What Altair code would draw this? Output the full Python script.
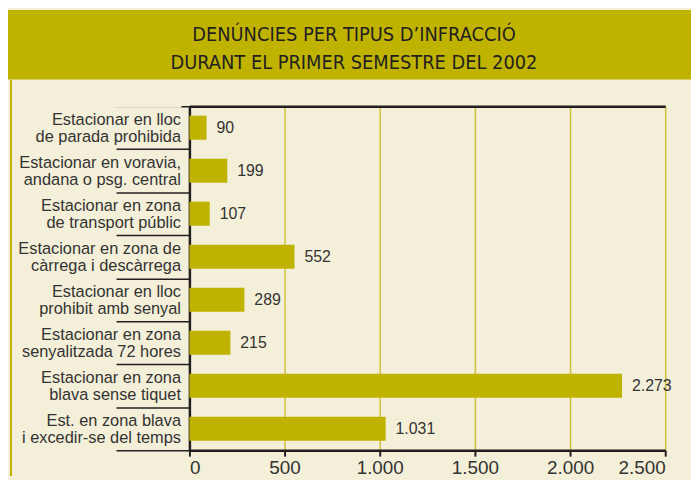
import altair as alt
import pandas as pd

title_lines = ["DENÚNCIES PER TIPUS D\u2019INFRACCIÓ", "DURANT EL PRIMER SEMESTRE DEL 2002"]

categories = [
    "Estacionar en lloc\nde parada prohibida",
    "Estacionar en voravia,\nandana o psg. central",
    "Estacionar en zona\nde transport públic",
    "Estacionar en zona de\ncàrrega i descàrrega",
    "Estacionar en lloc\nprohibit amb senyal",
    "Estacionar en zona\nsenyalitzada 72 hores",
    "Estacionar en zona\nblava sense tiquet",
    "Est. en zona blava\ni excedir-se del temps",
]
values = [90, 199, 107, 552, 289, 215, 2273, 1031]
x_ticks = [0, 500, 1000, 1500, 2000, 2500]

OLIVE = "#c0b300"
CREAM = "#f3efd8"
GRID = "#cfc23a"
DARK = "#231f20"
TEXT = "#333333"
FONT = "Liberation Sans"
TFONT = "Liberation Sans Narrow, DejaVu Sans Condensed, sans-serif"

W, H = 480, 347

df = pd.DataFrame({"cat": categories, "val": values})
df["lab"] = [f"{v:,}".replace(",", ".") for v in values]

title_df = pd.DataFrame({"t": [title_lines]})

# decorative title band, left border and a mask over the topmost separator (page furniture, not data)
band = alt.Chart(title_df).mark_rect(color=OLIVE).encode(
    x=alt.value(-183), x2=alt.value(W + 26), y=alt.value(-97), y2=alt.value(-27)
)
border = alt.Chart(title_df).mark_rule(color=OLIVE, strokeWidth=2).encode(
    x=alt.value(-180), y=alt.value(-27), y2=alt.value(H + 26)
)
mask = alt.Chart(title_df).mark_rule(color=CREAM, strokeWidth=3).encode(
    x=alt.value(-76), x2=alt.value(-8), y=alt.value(0)
)
title = alt.Chart(title_df).mark_text(
    font=TFONT, fontSize=20, lineHeight=28, color=DARK, baseline="middle", align="center"
).encode(text="t:N", x=alt.value(166), y=alt.value(-72))

y_enc = alt.Y(
    "cat:N", sort=categories, title=None,
    scale=alt.Scale(paddingInner=0, paddingOuter=0),
    axis=alt.Axis(
        tickBand="extent", tickSize=74, tickWidth=1.5, tickColor=DARK,
        domainColor=DARK, domainWidth=2.5,
        labelExpr="split(datum.label, '\\n')", labelFont=FONT, labelFontSize=16.5,
        labelLineHeight=17, labelColor=TEXT, labelPadding=-65, labelAlign="right",
        labelBaseline="middle", labelOffset=-8.5, minExtent=183, maxExtent=183,
    ),
)

x_scale = alt.Scale(domain=[0, 2500], nice=False)

bars = alt.Chart(df).mark_bar(color=OLIVE, height={"band": 0.56}).encode(
    y=y_enc,
    x=alt.X("val:Q", scale=x_scale, title=None, axis=alt.Axis(
        values=x_ticks, grid=True, gridColor=GRID, gridWidth=1.5,
        domainColor=DARK, domainWidth=2.5, tickColor=DARK, tickWidth=2, tickSize=6,
        labelFont=FONT, labelFontSize=19, labelColor=TEXT, labelPadding=3,
        labelExpr="replace(format(datum.value, ','), ',', '.')",
    )),
)

labels = alt.Chart(df).mark_text(
    align="left", baseline="middle", dx=10, font=FONT, fontSize=16, color=TEXT
).encode(
    y=alt.Y("cat:N", sort=categories),
    x=alt.X("val:Q", scale=x_scale, axis=alt.Axis(
        orient="top", labels=False, ticks=False, grid=False, title=None,
        domainColor=DARK, domainWidth=2.5,
    )),
    text="lab:N",
)

chart = alt.layer(band, border, title, bars, labels, mask).resolve_axis(x="independent").properties(
    width=W, height=H, background=CREAM, padding=0
).configure_view(strokeWidth=0)

chart.save("out.html", embed_options={"renderer": "svg", "actions": False})
